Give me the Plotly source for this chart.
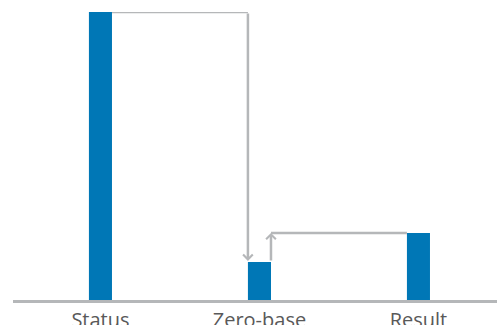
import plotly.graph_objects as go

categories = ["Status", "Zero-base", "Result"]
values = [100, 13.2, 23.3]

bar_color = "#0077B6"
conn_color = "#B5B7B9"
bar_w = 0.145

fig = go.Figure(go.Bar(x=list(range(len(categories))), y=values, width=bar_w,
                       marker=dict(color=bar_color, line=dict(width=0))))

h = bar_w / 2
# connector 1: Status top -> Zero-base (arrow down)
x1 = 1 - h
fig.add_shape(type="line", xref="x", yref="y", x0=0 + h, y0=values[0], x1=x1, y1=values[0],
              line=dict(color=conn_color, width=2.5))
fig.add_annotation(x=x1, y=values[1], ax=x1, ay=values[0], xref="x", yref="y",
                   axref="x", ayref="y", showarrow=True, arrowhead=4, arrowsize=0.75,
                   arrowwidth=2.5, arrowcolor=conn_color, standoff=1, text="")
# connector 2: Zero-base (arrow up) -> Result
x2 = 1 + h
fig.add_annotation(x=x2, y=values[2], ax=x2, ay=values[1], xref="x", yref="y",
                   axref="x", ayref="y", showarrow=True, arrowhead=4, arrowsize=0.75,
                   arrowwidth=2.5, arrowcolor=conn_color, standoff=0, text="")
fig.add_shape(type="line", xref="x", yref="y", x0=x2, y0=values[2], x1=2 - h, y1=values[2],
              line=dict(color=conn_color, width=2.5))

fig.update_layout(
    width=497, height=325, margin=dict(l=13, r=0, t=12, b=25),
    plot_bgcolor="white", paper_bgcolor="white", showlegend=False,
    font=dict(family="Open Sans", size=20, color="#595959"),
    xaxis=dict(range=[-0.55, 2.494], tickvals=list(range(len(categories))), ticktext=categories,
               showline=True, linecolor=conn_color, linewidth=3, showgrid=False,
               zeroline=False, ticks="", fixedrange=True, automargin=False),
    yaxis=dict(range=[0, 100], visible=False, showgrid=False, zeroline=False, fixedrange=True,
               automargin=False),
)
fig.write_html("out.html")
